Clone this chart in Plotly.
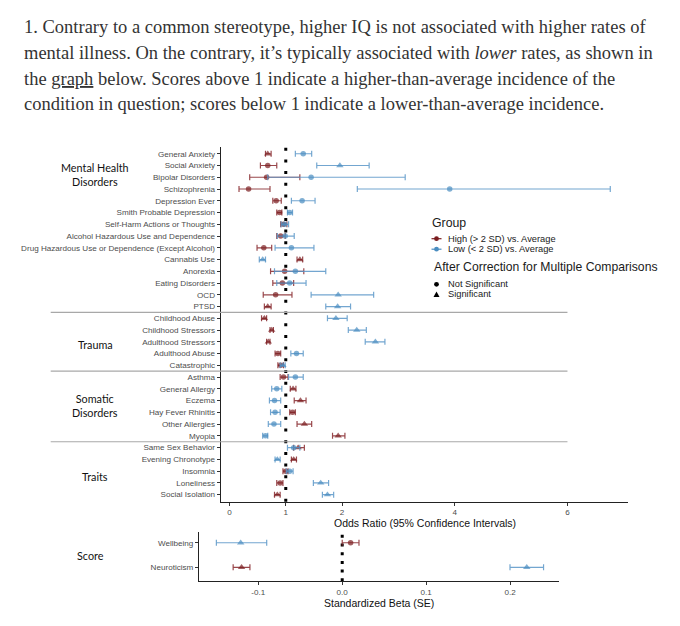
import plotly.graph_objects as go

# page body has an 8px margin; the figure is sized to fill the 680x626 window exactly
OFF = 8
W, H = 680 - 2 * OFF, 626 - 2 * OFF

# ---------------- data ----------------
categories = [
    "General Anxiety", "Social Anxiety", "Bipolar Disorders", "Schizophrenia",
    "Depression Ever", "Smith Probable Depression", "Self-Harm Actions or Thoughts",
    "Alcohol Hazardous Use and Dependence",
    "Drug Hazardous Use or Dependence (Except Alcohol)", "Cannabis Use", "Anorexia",
    "Eating Disorders", "OCD", "PTSD",
    "Childhood Abuse", "Childhood Stressors", "Adulthood Stressors", "Adulthood Abuse",
    "Catastrophic",
    "Asthma", "General Allergy", "Eczema", "Hay Fever Rhinitis", "Other Allergies", "Myopia",
    "Same Sex Behavior", "Evening Chronotype", "Insomnia", "Loneliness", "Social Isolation",
]
high_or = [0.68, 0.68, 0.66, 0.34, 0.83, 0.89, 0.96, 0.91, 0.61, 1.25, 0.98, 0.94, 0.82, 0.68,
           0.62, 0.75, 0.69, 0.86, 0.91,
           0.96, 1.13, 1.26, 1.12, 1.33, 1.93,
           1.22, 1.14, 1.00, 0.90, 0.85]
high_lo = [0.64, 0.55, 0.36, 0.17, 0.77, 0.84, 0.91, 0.84, 0.49, 1.20, 0.73, 0.77, 0.60, 0.62,
           0.57, 0.72, 0.66, 0.81, 0.86,
           0.90, 1.08, 1.15, 1.07, 1.20, 1.83,
           1.14, 1.10, 0.95, 0.84, 0.80]
high_hi = [0.74, 0.84, 1.25, 0.72, 0.92, 0.93, 1.02, 0.99, 0.75, 1.30, 1.32, 1.14, 1.11, 0.74,
           0.66, 0.78, 0.72, 0.91, 0.96,
           1.04, 1.18, 1.36, 1.17, 1.46, 2.05,
           1.33, 1.19, 1.04, 0.95, 0.90]
high_sig = [1, 0, 0, 0, 0, 0, 0, 0, 0, 1, 0, 0, 0, 1,
            1, 1, 1, 0, 0,
            0, 1, 1, 0, 1, 1,
            1, 1, 0, 0, 1]
low_or = [1.31, 1.96, 1.45, 3.91, 1.29, 1.07, 0.98, 0.99, 1.10, 0.59, 1.17, 1.07, 1.93, 1.92,
          1.89, 2.26, 2.59, 1.19, 0.95,
          1.17, 0.84, 0.80, 0.81, 0.79, 0.64,
          1.14, 0.85, 1.07, 1.62, 1.74]
low_lo = [1.17, 1.55, 0.68, 2.27, 1.10, 1.03, 0.92, 0.85, 0.81, 0.53, 0.80, 0.84, 1.45, 1.71,
          1.74, 2.11, 2.41, 1.09, 0.90,
          1.05, 0.75, 0.71, 0.73, 0.69, 0.59,
          1.03, 0.81, 1.01, 1.49, 1.65]
low_hi = [1.46, 2.48, 3.12, 6.76, 1.52, 1.12, 1.05, 1.15, 1.50, 0.64, 1.71, 1.36, 2.56, 2.15,
          2.09, 2.43, 2.76, 1.31, 0.99,
          1.31, 0.93, 0.91, 0.90, 0.91, 0.68,
          1.25, 0.90, 1.13, 1.76, 1.85]
low_sig = [0, 1, 0, 0, 0, 0, 0, 0, 0, 1, 0, 0, 1, 1,
           1, 1, 1, 0, 1,
           0, 0, 0, 0, 0, 0,
           0, 1, 0, 1, 1]

group_names = ["Mental Health<br>Disorders", "Trauma", "Somatic<br>Disorders", "Traits"]
group_sizes = [14, 5, 6, 5]

score_categories = ["Wellbeing", "Neuroticism"]
score_high = [0.010, -0.120]
score_high_lo = [0.000, -0.130]
score_high_hi = [0.020, -0.110]
score_high_sig = [0, 1]
score_low = [-0.121, 0.220]
score_low_lo = [-0.150, 0.200]
score_low_hi = [-0.090, 0.240]
score_low_sig = [1, 1]

or_ticks = [0, 1, 2, 4, 6]
beta_ticks = [-0.1, 0.0, 0.1, 0.2]
beta_ticktext = ["-0.1", "0.0", "0.1", "0.2"]

title_lines = [
    "1. Contrary to a common stereotype, higher IQ is not associated with higher rates of",
    "mental illness. On the contrary, it\u2019s typically associated with <i>lower</i> rates, as shown in",
    "the <span style='text-decoration:underline'>graph</span> below. Scores above 1 indicate a higher-than-average incidence of the",
    "condition in question; scores below 1 indicate a lower-than-average incidence.",
]

# ---------------- style / layout ----------------
RED = "#7A1C1F"
RED_BAR = "rgba(135,40,45,0.85)"
BLUE = "#4A8DC0"
BLUE_BAR = "rgba(90,150,200,0.85)"
TICK_FONT = dict(family="Liberation Sans, Arial", size=8.1, color="#4D4D4D")
GROUP_FONT = dict(family="Lato, Open Sans", size=10.8, color="#111111")
group_label_y = [175, 344, 405.5, 476.5]   # pixel centres of the group labels


def px(x):
    return (x - OFF) / W


def py(y):
    return 1 - (y - OFF) / H


def symbols(sig):
    return ["triangle-up" if s else "circle" for s in sig]


def sizes(sig):
    return [6.5 if s else 5.5 for s in sig]


fig = go.Figure()


def add_series(x, lo, hi, sig, cats, color, barcolor, xa, ya):
    fig.add_trace(go.Scatter(
        x=x, y=cats, mode="markers", xaxis=xa, yaxis=ya, showlegend=False,
        marker=dict(color=color, symbol=symbols(sig), size=sizes(sig), line=dict(width=0)),
        error_x=dict(type="data", symmetric=False,
                     array=[h - v for h, v in zip(hi, x)],
                     arrayminus=[v - l for v, l in zip(x, lo)],
                     color=barcolor, thickness=1.2, width=3),
        cliponaxis=False,
    ))


add_series(high_or, high_lo, high_hi, high_sig, categories, RED, RED_BAR, "x", "y")
add_series(low_or, low_lo, low_hi, low_sig, categories, BLUE, BLUE_BAR, "x", "y")
add_series(score_high, score_high_lo, score_high_hi, score_high_sig, score_categories, RED, RED_BAR, "x2", "y2")
add_series(score_low, score_low_lo, score_low_hi, score_low_sig, score_categories, BLUE, BLUE_BAR, "x2", "y2")

# geometry (pixels in the 680x626 window)
TOP_L, TOP_R, TOP_T, TOP_B = 220.7, 628.3, 146.7, 501.7
BOT_L, BOT_R, BOT_T, BOT_B = 199.0, 559.0, 531.7, 581.3
n = len(categories)

axis_common = dict(showline=True, linecolor="#222222", linewidth=1.1, ticks="outside",
                   ticklen=3, tickcolor="#333333", tickwidth=1, showgrid=False,
                   zeroline=False, tickfont=TICK_FONT)

fig.update_layout(
    width=W, height=H, margin=dict(l=0, r=0, t=0, b=0),
    paper_bgcolor="white", plot_bgcolor="white",
    xaxis=dict(domain=[px(TOP_L), px(TOP_R)], range=[-0.155, 7.08], tickvals=or_ticks,
               anchor="y", **axis_common),
    yaxis=dict(domain=[py(TOP_B), py(TOP_T)], type="category", categoryarray=categories,
               range=[n - 0.4, -0.6], anchor="x", **axis_common),
    xaxis2=dict(domain=[px(BOT_L), px(BOT_R)], range=[-0.1707, 0.2584], tickvals=beta_ticks,
                ticktext=beta_ticktext, anchor="y2", **axis_common),
    yaxis2=dict(domain=[py(BOT_B), py(BOT_T)], type="category", categoryarray=score_categories,
                range=[1.57, -0.45], anchor="x2", **axis_common),
)

shapes = []
# reference lines
shapes.append(dict(type="line", xref="x", yref="y domain", x0=1, x1=1, y0=0, y1=1,
                   line=dict(color="black", width=3, dash="3px,8.7px"), layer="below"))
shapes.append(dict(type="line", xref="x2", yref="y2 domain", x0=0, x1=0, y0=0, y1=1,
                   line=dict(color="black", width=3, dash="3px,5.7px"), layer="below"))

annotations = []
row_px = (TOP_B - TOP_T) / (n + 0.2)


def row_y(i):
    return TOP_T + (i + 0.6) * row_px


sep_right = TOP_L + (6 + 0.155) / (7.08 + 0.155) * (TOP_R - TOP_L)
start = 0
for gi, (name, size) in enumerate(zip(group_names, group_sizes)):
    end = start + size
    annotations.append(dict(text=name, x=px(95), y=py(group_label_y[gi]), xref="paper",
                            yref="paper", showarrow=False, xanchor="center", yanchor="middle",
                            font=GROUP_FONT))
    if gi < len(group_sizes) - 1:
        ysep = (row_y(end - 1) + row_y(end)) / 2
        shapes.append(dict(type="line", xref="paper", yref="paper", x0=px(50.7), x1=px(sep_right),
                           y0=py(ysep), y1=py(ysep), line=dict(color="#A8A8A8", width=1.2)))
    start = end

annotations.append(dict(text="Score", x=px(90), y=py(555), xref="paper", yref="paper",
                        showarrow=False, xanchor="center", yanchor="middle", font=GROUP_FONT))

# axis titles
annotations.append(dict(text="Odds Ratio (95% Confidence Intervals)", x=px((TOP_L + TOP_R) / 2),
                        y=py(522.5), xref="paper", yref="paper", showarrow=False,
                        xanchor="center", yanchor="middle",
                        font=dict(family="Liberation Sans, Arial", size=10.5, color="#111111")))
annotations.append(dict(text="Standardized Beta (SE)", x=px((BOT_L + BOT_R) / 2),
                        y=py(602.5), xref="paper", yref="paper", showarrow=False,
                        xanchor="center", yanchor="middle",
                        font=dict(family="Liberation Sans, Arial", size=10.5, color="#111111")))

# legend (drawn manually)
LEG = dict(family="Liberation Sans, Arial", color="#1A1A1A")
annotations.append(dict(text="Group", x=px(430), y=py(222.5), xref="paper", yref="paper",
                        showarrow=False, xanchor="left", yanchor="middle", font=dict(size=12.3, **LEG)))
annotations.append(dict(text="After Correction for Multiple Comparisons", x=px(432), y=py(267),
                        xref="paper", yref="paper", showarrow=False, xanchor="left",
                        yanchor="middle", font=dict(size=12.2, **LEG)))
legend_items = [("High (> 2 SD) vs. Average", 238.7, RED, "line"),
                ("Low (< 2 SD) vs. Average", 249.2, BLUE, "line"),
                ("Not Significant", 284.3, "black", "circle"),
                ("Significant", 294.5, "black", "triangle")]
for label, yy, col, kind in legend_items:
    annotations.append(dict(text=label, x=px(446), y=py(yy), xref="paper", yref="paper",
                            showarrow=False, xanchor="left", yanchor="middle",
                            font=dict(size=9.3, **LEG)))
    kx = 436.5
    if kind == "line":
        shapes.append(dict(type="line", xref="paper", yref="paper", x0=px(kx - 5), x1=px(kx + 5),
                           y0=py(yy), y1=py(yy), line=dict(color=col, width=1.2)))
        shapes.append(dict(type="circle", xref="paper", yref="paper", x0=px(kx - 2.4), x1=px(kx + 2.4),
                           y0=py(yy - 2.4), y1=py(yy + 2.4), fillcolor=col, line=dict(width=0)))
    elif kind == "circle":
        shapes.append(dict(type="circle", xref="paper", yref="paper", x0=px(kx - 2.4), x1=px(kx + 2.4),
                           y0=py(yy - 2.4), y1=py(yy + 2.4), fillcolor=col, line=dict(width=0)))
    else:
        path = "M {} {} L {} {} L {} {} Z".format(px(kx - 3), py(yy + 2.4), px(kx + 3), py(yy + 2.4),
                                                  px(kx), py(yy - 3))
        shapes.append(dict(type="path", xref="paper", yref="paper", path=path, fillcolor=col,
                           line=dict(width=0)))

# intro text
for i, line in enumerate(title_lines):
    annotations.append(dict(text=line, x=px(22), y=py(27 + i * 25.8), xref="paper", yref="paper",
                            showarrow=False, xanchor="left", yanchor="middle",
                            font=dict(family="Liberation Serif, Times New Roman", size=18.5,
                                      color="#333333")))

fig.update_layout(shapes=shapes, annotations=annotations)
fig.write_html("out.html")
